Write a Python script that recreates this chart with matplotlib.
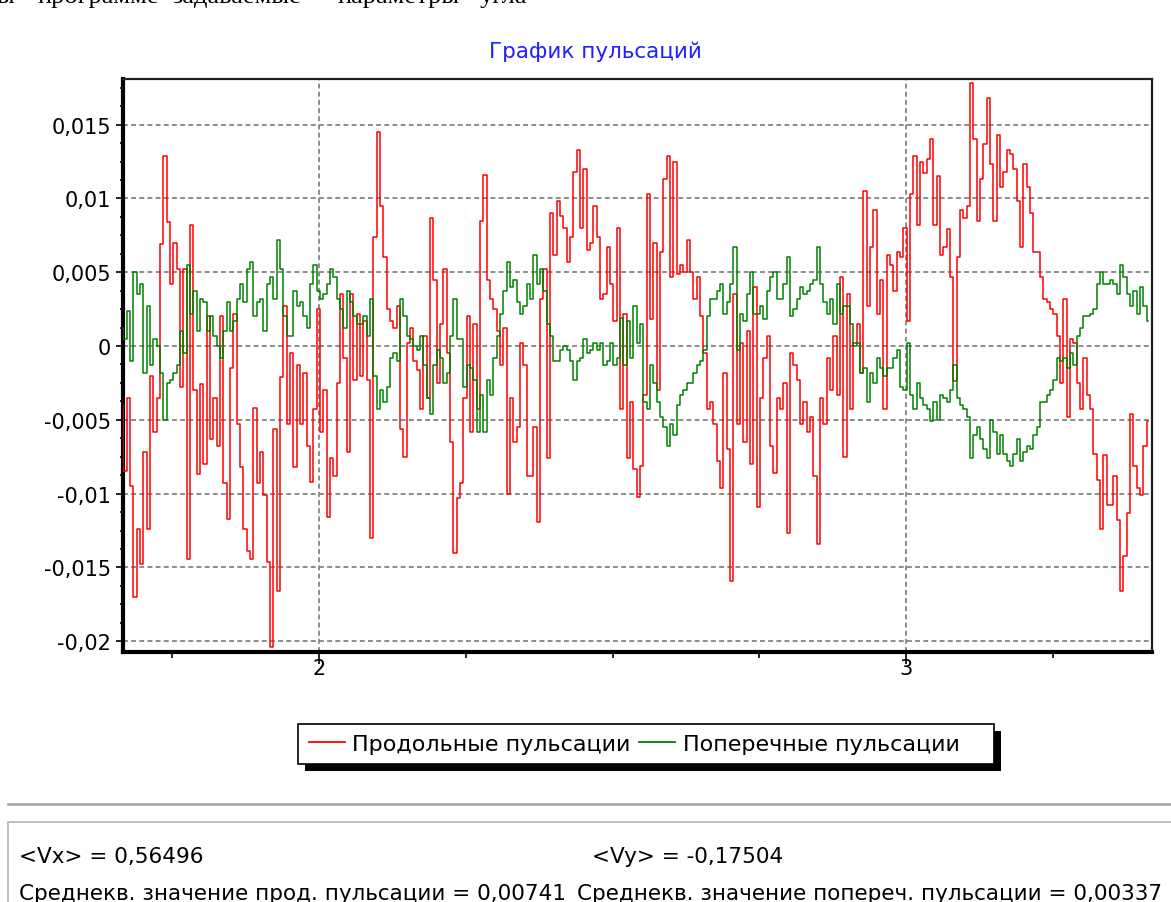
#!/usr/bin/env python3
"""Pulsation chart (longitudinal / transverse) redrawn with matplotlib."""

import numpy as np
import matplotlib

matplotlib.use("Agg")
import matplotlib.pyplot as plt
from matplotlib.lines import Line2D
from matplotlib.patches import Rectangle
from matplotlib.ticker import FuncFormatter, MultipleLocator


TITLE = "График пульсаций"
TOP_WORDS = ["ы", "программе", "задаваемые", "параметры", "угла"]
SERIES_NAMES = ["Продольные пульсации", "Поперечные пульсации"]
SERIES_COLORS = ["#ff0000", "#008000"]

# time axis of the record
T_START, T_END = 1.664, 3.413
X_LIM = (1.666, 3.419)
Y_LIM = (-0.02073, 0.01809)
X_MAJOR, X_MINOR = 1.0, 0.25
Y_MAJOR, Y_MINOR = 0.005, 0.00125

# pulsation values, in thousandths
PROD = [
    -4, -8.5, -3.5, -9.5, -17, -12.4, -14.8, -7.2, -12.4, -2,
    -5.8, -3.5, 6.9, 12.9, 8.4, 4.2, 7, 5.2, -2.8, 5.2,
    -14.4, 8.2, -3, -8.7, -2.6, -8, 2, -6.3, -3.5, -6.8,
    2, -9.3, -11.7, -1.5, 2.2, -5.3, -8.2, -12.4, -13.9, -14.4,
    -4.2, -9.3, -7.2, -10.1, -14.6, -20.4, -5.6, -16.6, -2.1, 2.7,
    -5.3, -0.5, -8.2, -1.3, -5.3, -1.8, -6.8, -9.2, -4.3, 2.5,
    -5.8, -3, -11.6, -7.6, -8.8, -2.5, 3.5, -0.8, -7.2, 3.5,
    -2.3, 2.2, -2, 1.7, -2.3, -13, 7.4, 14.5,
    9.5, 6, 2.5, 1.7, 1.2, 2.7, -5.6, -7.5, 0.2, 1.2,
    -1, -1.6, -4.3, 0.7, -3.5, 8.7, 4.5, -2.5, 1.5, 5.2,
    -0.5, -6.5, -14, -10.3, -9.3, -3.5, 2, -5.8, 1.5, -4.3,
    8.5, 11.6, 4.5, 3.2, 2.5, 1, -1.3, 1.2, -10, -3.5,
    -6.5, -5.5, 0.2, -1.3, -8.8, -8.8, -5.5, -11.9, 3.2, 5.2,
    -7.6, 9, 6.2, 9.8, 8.8, 8, 5.7, 7.4, 11.8, 13.3,
    8, 12, 6.5, 7, 9.5, 7.4, 3.2, 3.5, 6.7, 4.2,
    1.7, 8, -4.3, 2.2, -7.6, -3.8, -8.3, -10.2,
    -8.1, -3.3, 10.3, 1.8, 7, -3, 6.4, 11.3, 12.9, 4.7,
    12.5, 4.9, 5.5, 5, 7.2, 5, 3.2, 4.7, 2, -0.5,
    -4.3, -3.8, -5.3, -7.8, -9.6, -1.8, -7, -15.9, 3.5, -5.3,
    0.2, -6.5, 1, -8, 4, -10.9, -3.5, -0.8, 0.7, -6.8,
    -8.6, -3.5, -4.3, -2.5, -12.7, -0.5, -1.3, -2.3, -5.3, -3.8,
    -5.8, -4.8, -8.8, -13.4, -3.5, -5.3, -0.8, -3, 0.7, -3.3,
    4.7, -7.5, 3.5, -4.3, 0.2, 1.5, -1.8, 10.5, 2.7, 6.7,
    9.2, 2.2, 4.5, -4.3, 6.2, 5.5, 3.7, 6.4,
    6, 8, 1.7, 10.3, 12.9, 8.2, 12.5, 11.7, 12.7, 14,
    8.2, 11.5, 6.2, 6.7, 7.9, 4.7, -2.4, 6, 9.2, 8.7,
    9.5, 17.8, 14, 8.5, 11.3, 13.7, 16.8, 12.3, 8.5, 14.3,
    10.8, 11.8, 13.3, 13, 12, 9.8, 6.7, 12.3, 10.8, 9,
    6.4, 6.4, 4.7, 3.2, 3, 2.5, 2.2, 0.7, -2.5, 3.2,
    -4.8, 0.5, 0.2, -2.5, -4.3, -0.8, -3.3, -4.3, -7.3, -9.1,
    -12.4, -7.4, -10.8, -10.8, -8.8, -11.8, -16.6, -14.2, -11.3, -4.6,
    -8.1, -9.6, -10.1, -6.8, -5.1,
]

POPER = [
    1.2, 0.5, 2.4, -1, 5, 3.5, 4.2, -1.8, 2.7, -1.3,
    0.5, 0, -1.8, -5, -2.5, -2.3, -1.8, -1.3, 1, -0.5,
    5.5, 2.2, 3.7, 1, 3.2, 3, 1, 2, 0.7, 0,
    -0.8, 1, 3, 1, 1.7, 3.2, 4.2, 3, 5.2, 5.7,
    2, 3, 3.2, 1, 4.2, 4.7, 3.2, 7.2, 5.2, 2,
    0.7, 0.7, 3.7, 2.7, 3, 2, 1.2, 4.2, 5.5, 3.7,
    3.2, 3.5, 4.2, 5.2, 4.7, 3.2, 2.5, 1.2, 3.7, 3,
    2, 1.5, 1.5, 2, 0.7, 3.2, -2, -4.3,
    -3, -3.8, -2.8, -0.8, -0.5, -1, 3.2, 2, 0.7, 0.5,
    0, -0.3, 0.7, -1.3, -3.5, -4.6, -1.3, -0.3, -0.8, -2.5,
    -1.8, 0.7, 3.2, 0.5, 0.5, -2.8, -1.3, -1.5, -2.3, -5.8,
    -3.3, -5.8, -2.3, -3.3, -0.8, 0.7, 2.2, 3.7, 5.7, 4,
    4.5, 3, 2.2, 2.7, 4.2, 3.2, 6.2, 4.2, 5.2, 3.7,
    1.5, 0.7, -1, -1, -0.3, 0, -0.3, -1, -2.3, -1,
    -0.8, 0.5, -0.5, -0.3, 0.2, -0.3, 0.2, -1.3, -1, 0.2,
    -1.3, -0.8, 1.9, -1.3, 1.7, -0.8, 2.7, 0.2,
    1.5, -3.8, -4.3, -1.3, -2.5, -3.8, -4.8, -5.5, -6.8, -5.3,
    -6, -4, -3.3, -3, -2.5, -2.5, -1.8, -1.3, -1, -0.3,
    2, 3.2, 3.2, 3.7, 4.2, 2.2, 3, 4.2, 6.7, -0.3,
    2.2, 1.7, 3.5, 5, 2.2, 2.2, 2.7, 1.8, 3.7, 4.7,
    5, 3.2, 3.2, 4.2, 6, 2, 2.5, 3.2, 4, 3.5,
    3.7, 4.2, 4.5, 6.7, 4.2, 3, 2.2, 3.2, 1.5, 4.2,
    2.2, 2.7, 2.7, 1.5, 0, 0.2, -1.8, -1.5, -3.8, -1.8,
    -2.5, -0.8, -1.5, -2, -1.5, -1.5, -0.8, -0.3,
    -2.8, -3, 0.2, -3.3, -4.3, -2.5, -3.5, -4, -4.3, -5.1,
    -3.8, -5, -3.3, -3.5, -3.8, -3, -1.3, -3.5, -4, -4.3,
    -4.8, -7.6, -6, -5.5, -6.3, -7, -7.6, -5, -5.8, -7.3,
    -6, -7.3, -7.8, -8.1, -7.3, -6.3, -7.8, -7.2, -6.8, -7,
    -6, -5.5, -3.8, -3.8, -3.3, -3, -2.3, -0.8, -1, -0.8,
    -1.5, -0.5, -1.3, 0.7, 1.2, 2, 2, 2.2, 2.5, 4.2,
    5, 4.2, 4.2, 4.5, 4.2, 3.5, 5.5, 4.7, 3.5, 2.7,
    3.7, 2.2, 4, 2.7, 1.7,
]

VX_MEAN = "0,56496"
VY_MEAN = "-0,17504"
RMS_PROD = "0,00741"
RMS_POPER = "0,00337"

W, H = 1171, 903


def fx(px):
    return px / W


def fy(py):
    return 1 - py / H


def comma_fmt(v, _pos):
    s = f"{round(v, 6):g}"
    return s.replace(".", ",")


def main():
    prod = np.array(PROD) / 1000
    poper = np.array(POPER) / 1000
    t = np.linspace(T_START, T_END, len(prod))

    fig = plt.figure(figsize=(W / 100, H / 100), dpi=100)
    fig.patch.set_facecolor("white")

    ax = fig.add_axes([fx(123), fy(653), (1152 - 123) / W, (653 - 80) / H])
    ax.plot(t, prod, color=SERIES_COLORS[0], lw=1.1, drawstyle="steps-mid", zorder=3)
    ax.plot(t, poper, color=SERIES_COLORS[1], lw=1.1, drawstyle="steps-mid", zorder=4)

    ax.set_xlim(*X_LIM)
    ax.set_ylim(*Y_LIM)
    ax.xaxis.set_major_locator(MultipleLocator(X_MAJOR))
    ax.xaxis.set_minor_locator(MultipleLocator(X_MINOR))
    ax.yaxis.set_major_locator(MultipleLocator(Y_MAJOR))
    ax.yaxis.set_minor_locator(MultipleLocator(Y_MINOR))
    ax.xaxis.set_major_formatter(FuncFormatter(comma_fmt))
    ax.yaxis.set_major_formatter(FuncFormatter(comma_fmt))

    ax.grid(True, which="major", color="#8c8c8c", lw=1.4, ls=(0, (2.5, 1.7)))
    ax.set_axisbelow(True)

    ax.tick_params(axis="y", which="major", length=5, width=1.2, pad=3.5, labelsize=15, colors="black")
    ax.tick_params(axis="y", which="minor", length=2.5, width=1.2)
    ax.tick_params(axis="x", which="major", length=8.5, width=1.2, pad=-4, labelsize=15, colors="black")
    ax.tick_params(axis="x", which="minor", length=4.5, width=1.2)

    for side in ("left", "bottom"):
        ax.spines[side].set_linewidth(3.0)
        ax.spines[side].set_color("black")
    for side in ("top", "right"):
        ax.spines[side].set_linewidth(1.6)
        ax.spines[side].set_color("#202020")

    # header line of the page, cut by the top edge
    for word, left in zip(TOP_WORDS, [-4, 37, 172, 337, 480]):
        fig.text(fx(left), fy(3), word, family="Liberation Serif", fontsize=19, va="baseline", ha="left")
    fig.text(fx(595), fy(52), TITLE, color="#1f1fff", fontsize=15.5, ha="center", va="center")

    # legend box with hard shadow
    fig.patches.append(Rectangle((fx(305), fy(772)), (994 - 298) / W, 40 / H, transform=fig.transFigure,
                                 facecolor="black", edgecolor="none", zorder=1))
    fig.patches.append(Rectangle((fx(298), fy(765)), (994 - 298) / W, 40 / H, transform=fig.transFigure,
                                 facecolor="white", edgecolor="black", lw=1.2, zorder=2))
    handles = [Line2D([], [], color=c, lw=1.3) for c in SERIES_COLORS]
    leg = fig.legend(handles, SERIES_NAMES, loc="center left", bbox_to_anchor=(fx(298), fy(745)), ncol=2,
                     frameon=False, fontsize=16, handlelength=1.62, handletextpad=0.32, columnspacing=0.4,
                     borderpad=0.5, borderaxespad=0)
    leg.set_zorder(3)

    # separator and info panel
    fig.add_artist(Line2D([fx(8), 1.0], [fy(805), fy(805)], transform=fig.transFigure, color="#a0a0a0", lw=1.8))
    fig.patches.append(Rectangle((fx(8), fy(930)), (1200 - 8) / W, (930 - 823) / H, transform=fig.transFigure,
                                 facecolor="none", edgecolor="#b4b4b4", lw=1.2))
    fig.text(fx(19), fy(863), f"<Vx> = {VX_MEAN}", fontsize=15.5, va="baseline")
    fig.text(fx(592), fy(863), f"<Vy> = {VY_MEAN}", fontsize=15.5, va="baseline")
    fig.text(fx(19), fy(900), f"Среднекв. значение прод. пульсации = {RMS_PROD}", fontsize=15.5, va="baseline")
    fig.text(fx(577), fy(900), f"Среднекв. значение попереч. пульсации = {RMS_POPER}", fontsize=15.5,
             va="baseline")

    fig.savefig("out.png", dpi=100)
    plt.close(fig)


if __name__ == "__main__":
    main()
